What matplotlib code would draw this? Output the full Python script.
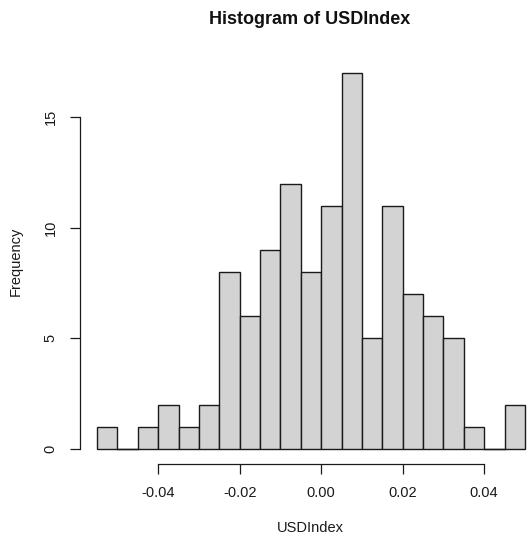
import numpy as np
import matplotlib.pyplot as plt

# Histogram bins of USDIndex returns (width 0.005)
bin_edges = np.round(np.arange(-0.055, 0.0501, 0.005), 3)
counts = [1, 0, 1, 2, 1, 2, 8, 6, 9, 12, 8, 11, 17, 5, 11, 7, 6, 5, 1, 0, 2]
x_ticks = [-0.04, -0.02, 0.00, 0.02, 0.04]
x_tick_labels = ["-0.04", "-0.02", "0.00", "0.02", "0.04"]
y_ticks = [0, 5, 10, 15]

plt.rcParams['font.family'] = ['Liberation Sans', 'DejaVu Sans']

W, H = 528, 543
fig = plt.figure(figsize=(W / 100, H / 100), dpi=100)

# plot region in pixels, R-style
left, right, top, bottom = 80, 542, 58, 464
ax = fig.add_axes([left / W, 1 - bottom / H, (right - left) / W, (bottom - top) / H])

edge = '#1a1a1a'
widths = np.diff(bin_edges)
ax.bar(bin_edges[:-1], counts, width=widths, align='edge',
       color='#d3d3d3', edgecolor=edge, linewidth=1.0)
# empty bins still show their base line
for x0, w, c in zip(bin_edges[:-1], widths, counts):
    if c == 0:
        ax.plot([x0, x0 + w], [0, 0], color=edge, linewidth=1.0)

xr = bin_edges[-1] - bin_edges[0]
ax.set_xlim(bin_edges[0] - 0.04 * xr, bin_edges[-1] + 0.04 * xr)
ymax = max(counts)
ax.set_ylim(-0.04 * ymax, ymax * 1.04)

for s in ['top', 'right']:
    ax.spines[s].set_visible(False)
ax.spines['left'].set_bounds(0, 15)
ax.spines['bottom'].set_bounds(-0.04, 0.04)
for s in ['left', 'bottom']:
    ax.spines[s].set_color(edge)
    ax.spines[s].set_linewidth(0.9)

ax.set_xticks(x_ticks)
ax.set_xticklabels(x_tick_labels)
ax.set_yticks(y_ticks)
ax.set_yticklabels([str(v) for v in y_ticks], rotation=90, va='center')
ax.tick_params(length=7, width=0.9, color=edge, labelsize=10.5, labelcolor=edge, pad=9)

fig.text(310 / W, 1 - 20 / H, "Histogram of USDIndex", ha='center', va='center',
         fontsize=13, fontweight='bold', color='#111111')
fig.text(310 / W, 1 - 528 / H, "USDIndex", ha='center', va='center', fontsize=10.5, color=edge)
fig.text(16 / W, 1 - 261 / H, "Frequency", ha='center', va='center', rotation=90,
         fontsize=10.5, color=edge)

fig.savefig('out.png', dpi=100)
